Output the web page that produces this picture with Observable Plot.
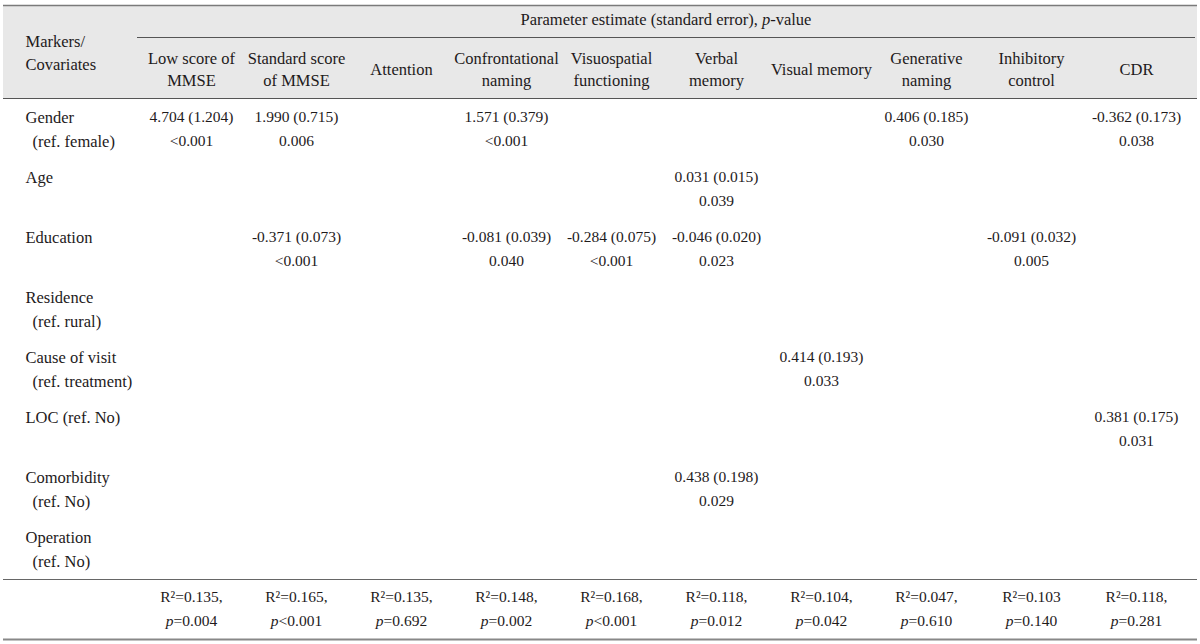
<!DOCTYPE html>
<html>
<head>
<meta charset="utf-8">
<script src="https://cdn.jsdelivr.net/npm/d3@7"></script>
<script src="https://cdn.jsdelivr.net/npm/@observablehq/plot@0.6"></script>
<style>
  html, body { margin: 0; padding: 0; background: #fff; overflow: hidden; }
  #chart svg { display: block; }
</style>
</head>
<body>
<div id="chart"></div>
<script>
// ---- Data ----
const groupTitle = "Parameter estimate (standard error), p-value";
const stubTitle = ["Markers/", "Covariates"];
const markers = [
  "Low score of\nMMSE",
  "Standard score\nof MMSE",
  "Attention",
  "Confrontational\nnaming",
  "Visuospatial\nfunctioning",
  "Verbal\nmemory",
  "Visual memory",
  "Generative\nnaming",
  "Inhibitory\ncontrol",
  "CDR"
];
const covariates = ["Gender", "Age", "Education", "Residence", "Cause of visit", "LOC (ref. No)", "Comorbidity", "Operation"];
const covariateRefs = ["(ref. female)", "", "", "(ref. rural)", "(ref. treatment)", "", "(ref. No)", "(ref. No)"];
const fitRow = "Model fit";

// significant cells
const cellCovariate = ["Gender", "Gender", "Gender", "Gender", "Gender",
  "Age",
  "Education", "Education", "Education", "Education", "Education",
  "Cause of visit",
  "LOC (ref. No)",
  "Comorbidity"];
const cellMarker = [0, 1, 3, 7, 9,
  5,
  1, 3, 4, 5, 8,
  6,
  9,
  5];
const cellEstimate = [4.704, 1.990, 1.571, 0.406, -0.362,
  0.031,
  -0.371, -0.081, -0.284, -0.046, -0.091,
  0.414,
  0.381,
  0.438];
const cellSE = [1.204, 0.715, 0.379, 0.185, 0.173,
  0.015,
  0.073, 0.039, 0.075, 0.020, 0.032,
  0.193,
  0.175,
  0.198];
const cellP = ["<0.001", "0.006", "<0.001", "0.030", "0.038",
  "0.039",
  "<0.001", "0.040", "<0.001", "0.023", "0.005",
  "0.033",
  "0.031",
  "0.029"];

// model fit row
const fitR2 = [0.135, 0.165, 0.135, 0.148, 0.168, 0.118, 0.104, 0.047, 0.103, 0.118];
const fitSep = [",", ",", ",", ",", ",", ",", ",", ",", "", ","];
const fitP = ["=0.004", "<0.001", "=0.692", "=0.002", "<0.001", "=0.012", "=0.042", "=0.610", "=0.140", "=0.281"];

// ---- Derived tables ----
const headerLines = markers.flatMap((m) => {
  const lines = m.split("\n");
  return lines.map((t, i) => ({marker: m, text: t, line: lines.length === 1 ? "single" : i === 0 ? "top" : "bottom"}));
});
const cells = cellCovariate.map((c, i) => ({
  covariate: c,
  marker: markers[cellMarker[i]],
  est: `${cellEstimate[i].toFixed(3)} (${cellSE[i].toFixed(3)})`,
  p: cellP[i]
}));
const fits = markers.map((m, i) => ({
  marker: m,
  r2: `R²=${fitR2[i].toFixed(3)}${fitSep[i]}`,
  p: `p${fitP[i]}`
}));
const stubs = covariates.map((c, i) => ({covariate: c, ref: covariateRefs[i]}));

const font = "'Liberation Serif', 'Times New Roman', serif";
const ink = "#1e1a1b";
const lineStep = 24;
const wordSize = 16.5;
const numSize = 15.5;
const xRange = [189, 1138];
const first = () => covariates[0];

const chart = Plot.plot({
  width: 1200,
  height: 644,
  marginTop: 4,
  marginBottom: 4,
  marginLeft: 3,
  marginRight: 3,
  style: {fontFamily: font, fontSize: `${wordSize}px`, color: ink, background: "#fff"},
  x: {type: "point", domain: markers, range: xRange, padding: 0, axis: null},
  y: {type: "point", domain: [...covariates, fitRow], range: [116, 598], padding: 0, axis: null},
  marks: [
    // header background band
    Plot.ruleY([covariates[0]], {stroke: "#e8e8e8", strokeWidth: 93, dy: -65.5}),
    // rules
    Plot.ruleY([covariates[0]], {stroke: "#7a7a7a", strokeWidth: 1.6, dy: -112}),
    Plot.ruleY([covariates[0]], {x1: () => markers[0], x2: () => markers[markers.length - 1], insetLeft: -54, insetRight: -59, stroke: "#555", strokeWidth: 1, dy: -80}),
    Plot.ruleY([covariates[0]], {stroke: "#555", strokeWidth: 1.2, dy: -19}),
    Plot.ruleY([fitRow], {stroke: "#666", strokeWidth: 1.2, dy: -18}),
    Plot.ruleY([fitRow], {stroke: "#888", strokeWidth: 2, dy: 42}),
    // group title
    Plot.text([groupTitle], {x: () => markers[0], dx: (xRange[1] - xRange[0]) / 2, y: first, dy: -98, text: (d) => d, fill: ink, textAnchor: "middle"}),
    // stub header
    Plot.text([stubTitle[0]], {frameAnchor: "left", dx: 22, y: first, dy: -76, text: (d) => d, fill: ink, textAnchor: "start"}),
    Plot.text([stubTitle[1]], {frameAnchor: "left", dx: 22, y: first, dy: -53, text: (d) => d, fill: ink, textAnchor: "start"}),
    // column headers
    Plot.text(headerLines.filter((d) => d.line === "top"), {x: "marker", y: first, dy: -59, text: "text", fill: ink, textAnchor: "middle"}),
    Plot.text(headerLines.filter((d) => d.line === "bottom"), {x: "marker", y: first, dy: -37, text: "text", fill: ink, textAnchor: "middle"}),
    Plot.text(headerLines.filter((d) => d.line === "single"), {x: "marker", y: first, dy: -48, text: "text", fill: ink, textAnchor: "middle"}),
    // covariate labels
    Plot.text(stubs, {frameAnchor: "left", dx: 22, y: "covariate", text: "covariate", fill: ink, textAnchor: "start"}),
    Plot.text(stubs.filter((d) => d.ref), {frameAnchor: "left", dx: 29, y: "covariate", dy: lineStep, text: "ref", fill: ink, textAnchor: "start"}),
    // cells
    Plot.text(cells, {x: "marker", y: "covariate", text: "est", fill: ink, fontSize: numSize}),
    Plot.text(cells, {x: "marker", y: "covariate", dy: lineStep, text: "p", fill: ink, fontSize: numSize}),
    // model fit
    Plot.text(fits, {x: "marker", y: () => fitRow, text: "r2", fill: ink, fontSize: numSize}),
    Plot.text(fits, {x: "marker", y: () => fitRow, dy: lineStep, text: "p", fill: ink, fontSize: numSize})
  ]
});

// italicise the statistical symbol "p"
d3.select(chart).selectAll("text").each(function () {
  const el = this;
  if (el.querySelector("tspan")) return;
  const s = el.textContent;
  const m = s.match(/(^|\s)p(?=[=<-])/);
  if (!m) return;
  const idx = m.index + m[1].length;
  const before = s.slice(0, idx), after = s.slice(idx + 1);
  el.textContent = "";
  const sel = d3.select(el);
  if (before) sel.append("tspan").text(before);
  sel.append("tspan").attr("font-style", "italic").text("p");
  sel.append("tspan").text(after);
});

document.getElementById("chart").append(chart);
</script>
</body>
</html>
